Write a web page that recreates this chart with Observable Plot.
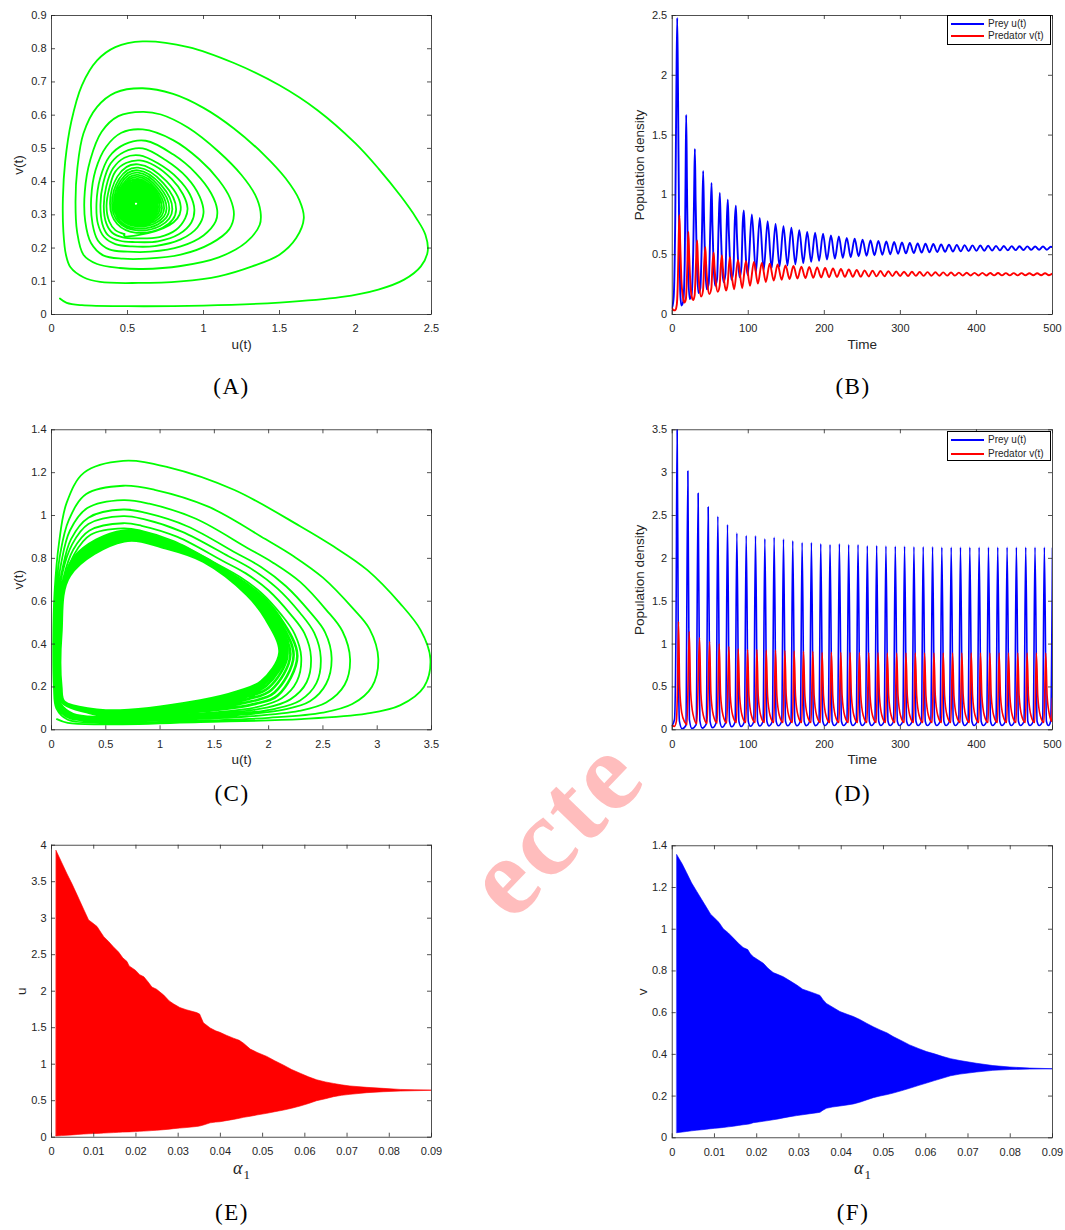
<!DOCTYPE html>
<html><head><meta charset="utf-8">
<script src="https://cdn.jsdelivr.net/npm/d3@7"></script>
<script src="https://cdn.jsdelivr.net/npm/@observablehq/plot@0.6"></script>
<style>
body{margin:0;background:#fff;}
#root{position:relative;width:1065px;height:1230px;overflow:hidden;background:#fff;}
.panel{position:absolute;z-index:1;}
.panel svg{display:block;max-width:none;}
.cap{position:absolute;z-index:3;font-family:'Liberation Serif','DejaVu Serif',serif;font-size:23px;letter-spacing:1.5px;transform:translate(-50%,-50%);color:#000;white-space:nowrap;line-height:1;}
.legend{position:absolute;z-index:3;background:#fff;border:1px solid #000;box-sizing:border-box;font-family:'Liberation Sans',Arial,sans-serif;font-size:10px;color:#262626;}
.legend .ln{position:absolute;left:3px;width:33px;height:0;border-top:2px solid;}
.legend .tx{position:absolute;left:40px;line-height:1;transform:translateY(-50%);white-space:nowrap;}
.alab{position:absolute;z-index:3;font-family:'Liberation Serif','DejaVu Serif',serif;color:#262626;white-space:nowrap;line-height:1;}
.wm{position:absolute;z-index:0;left:553px;top:826px;transform:translate(-50%,-50%) rotate(-46deg);font-family:'Liberation Serif','DejaVu Serif',serif;font-weight:bold;font-size:112px;letter-spacing:3px;color:#ffbdbd;white-space:nowrap;line-height:1;}
</style></head>
<body><div id="root"><div class="wm">ecte</div></div>
<script>
// ---------- tick values ----------
const ticksA_x = [0, 0.5, 1, 1.5, 2, 2.5];
const ticksA_y = [0, 0.1, 0.2, 0.3, 0.4, 0.5, 0.6, 0.7, 0.8, 0.9];
const ticksTime = [0, 100, 200, 300, 400, 500];
const ticksB_y = [0, 0.5, 1, 1.5, 2, 2.5];
const ticksC_x = [0, 0.5, 1, 1.5, 2, 2.5, 3, 3.5];
const ticksC_y = [0, 0.2, 0.4, 0.6, 0.8, 1, 1.2, 1.4];
const ticksD_y = [0, 0.5, 1, 1.5, 2, 2.5, 3, 3.5];
const ticksAlpha = [0, 0.01, 0.02, 0.03, 0.04, 0.05, 0.06, 0.07, 0.08, 0.09];
const ticksE_y = [0, 0.5, 1, 1.5, 2, 2.5, 3, 3.5, 4];
const ticksF_y = [0, 0.2, 0.4, 0.6, 0.8, 1, 1.2, 1.4];

// ---------- (A) phase trajectory [u, v]: outer loops ----------
const phaseA_outer = [
[0.055,0.048],[0.1,0.035],[0.2,0.028],[0.5,0.025],[1.0,0.027],[1.5,0.036],[1.9,0.052],[2.15,0.075],[2.32,0.105],[2.43,0.145],[2.475,0.19],[2.46,0.24],[2.4,0.29],[2.3,0.355],[2.15,0.44],[2.0,0.515],[1.75,0.615],[1.5,0.69],[1.2,0.757],[0.9,0.805],[0.6,0.822],[0.42,0.805],[0.3,0.765],[0.2,0.69],[0.13,0.58],[0.09,0.46],[0.075,0.35],[0.078,0.25],[0.095,0.18],[0.125,0.142],[0.21,0.112],
[0.32,0.098],[0.57,0.095],[0.85,0.1],[1.1,0.115],[1.32,0.145],[1.5,0.18],[1.61,0.23],[1.66,0.29],[1.63,0.345],[1.54,0.41],[1.4,0.48],[1.2,0.56],[1.0,0.622],[0.8,0.664],[0.6,0.681],[0.42,0.668],[0.3,0.625],[0.21,0.545],[0.17,0.44],[0.158,0.34],[0.168,0.25],[0.21,0.18],[0.3,0.152],
[0.45,0.14],[0.6,0.137],[0.85,0.146],[1.1,0.172],[1.28,0.217],[1.37,0.27],[1.375,0.31],[1.34,0.36],[1.25,0.42],[1.1,0.49],[0.9,0.562],[0.72,0.602],[0.6,0.61],[0.44,0.597],[0.33,0.55],[0.255,0.465],[0.219,0.37],[0.222,0.28],[0.26,0.215],[0.34,0.178],
[0.47,0.168],[0.62,0.168],[0.85,0.18],[1.05,0.214],[1.17,0.257],[1.2,0.3],[1.175,0.35],[1.1,0.405],[0.97,0.468],[0.8,0.525],[0.6,0.557],[0.46,0.547],[0.36,0.505],[0.29,0.435],[0.261,0.35],[0.27,0.272],[0.305,0.223],[0.38,0.196],
[0.5,0.189],[0.65,0.189],[0.85,0.205],[1.0,0.238],[1.08,0.28],[1.09,0.315],[1.05,0.365],[0.95,0.425],[0.8,0.482],[0.62,0.523],[0.48,0.512],[0.38,0.475],[0.32,0.41],[0.296,0.335],[0.306,0.272],[0.345,0.234],[0.42,0.212],
[0.53,0.205],[0.68,0.206],[0.85,0.226],[0.96,0.262],[1.0,0.305],[0.975,0.355],[0.89,0.413],[0.75,0.465],[0.6,0.5],[0.48,0.49],[0.39,0.455],[0.34,0.395],[0.322,0.33],[0.335,0.272],[0.37,0.24],[0.45,0.222],
[0.55,0.218],[0.7,0.22],[0.84,0.242],[0.92,0.277],[0.94,0.315],[0.91,0.362],[0.83,0.41],[0.7,0.455],[0.58,0.479],[0.48,0.472],[0.405,0.44],[0.36,0.385],[0.344,0.325],[0.36,0.275],[0.4,0.246],[0.47,0.232],
[0.56,0.229],[0.71,0.233],[0.82,0.255],[0.88,0.29],[0.895,0.32],[0.865,0.362],[0.79,0.408],[0.68,0.448],[0.58,0.464],[0.49,0.456],[0.42,0.43],[0.38,0.38],[0.362,0.325],[0.38,0.28],[0.42,0.254],[0.48,0.242]
];
// ---------- (A) inner loops (bottom, right, top, left extremes per loop) ----------
const phaseA_inner = [
[0.48,0.242],
[0.56,0.238],[0.85,0.315],[0.57,0.452],[0.385,0.335],
[0.56,0.246],[0.82,0.316],[0.57,0.442],[0.398,0.335],
[0.56,0.253],[0.795,0.317],[0.57,0.434],[0.41,0.335],
[0.56,0.259],[0.775,0.318],[0.57,0.427],[0.421,0.335],
[0.56,0.265],[0.757,0.319],[0.57,0.42],[0.431,0.335],
[0.56,0.27],[0.741,0.32],[0.57,0.414],[0.44,0.335],
[0.56,0.275],[0.727,0.321],[0.57,0.408],[0.448,0.335],
[0.56,0.279],[0.714,0.322],[0.57,0.403],[0.456,0.335],
[0.56,0.283],[0.702,0.323],[0.57,0.398],[0.463,0.335],
[0.56,0.287],[0.692,0.324],[0.57,0.394],[0.469,0.335],
[0.56,0.29],[0.682,0.325],[0.57,0.39],[0.475,0.335],
[0.56,0.293],[0.673,0.326],[0.57,0.386],[0.48,0.335],
[0.56,0.296],[0.665,0.327],[0.57,0.382],[0.485,0.335],
[0.56,0.299],[0.657,0.328],[0.565,0.378],[0.49,0.335],
[0.56,0.301],[0.65,0.328],[0.565,0.375],[0.494,0.335],
[0.558,0.303],[0.643,0.329],[0.565,0.372],[0.498,0.335],
[0.558,0.305],[0.637,0.329],[0.565,0.369],[0.502,0.335],
[0.558,0.307],[0.631,0.33],[0.562,0.366],[0.506,0.335],
[0.558,0.309],[0.625,0.33],[0.562,0.363],[0.509,0.335],
[0.557,0.311],[0.62,0.331],[0.562,0.361],[0.512,0.334],
[0.557,0.313],[0.615,0.331],[0.56,0.358],[0.515,0.334],
[0.557,0.315],[0.61,0.331],[0.56,0.356],[0.518,0.334],
[0.556,0.317],[0.605,0.332],[0.56,0.354],[0.521,0.334],
[0.556,0.319],[0.6,0.332],[0.558,0.352],[0.524,0.334],
[0.556,0.32],[0.596,0.332],[0.558,0.35],[0.527,0.334],
[0.556,0.321],[0.592,0.332],[0.558,0.348],[0.53,0.334],
[0.555,0.322],[0.588,0.333],[0.557,0.346],[0.532,0.334],
[0.555,0.323],[0.585,0.333],[0.557,0.345],[0.534,0.334],
[0.555,0.325],[0.58,0.333],[0.556,0.343],[0.537,0.334],
[0.555,0.327],[0.575,0.333],[0.556,0.341],[0.54,0.334],
[0.555,0.329],[0.57,0.333],[0.556,0.339],[0.543,0.334]
];
const equilibriumA = [[0.555, 0.333]];

// ---------- (C) phase trajectory [u, v]: outer loops ----------
const phaseC_outer = [
[0.05,0.05],[0.15,0.032],[0.45,0.025],[1.37,0.036],[2.3,0.05],[2.9,0.075],[3.21,0.114],[3.43,0.2],[3.49,0.33],[3.4,0.465],[3.21,0.59],[2.91,0.745],[2.6,0.855],[2.29,0.95],[1.68,1.12],[1.07,1.226],[0.66,1.255],[0.3,1.2],[0.14,1.06],[0.07,0.875],[0.028,0.64],[0.016,0.41],[0.022,0.2],[0.045,0.1],
[0.15,0.047],[0.45,0.034],[1.2,0.04],[2.0,0.056],[2.5,0.08],[2.77,0.12],[2.95,0.2],[3.01,0.33],[2.93,0.47],[2.77,0.57],[2.5,0.71],[2.23,0.81],[1.97,0.89],[1.45,1.04],[0.95,1.12],[0.66,1.139],[0.32,1.1],[0.16,0.98],[0.08,0.82],[0.035,0.6],[0.022,0.4],[0.028,0.2],[0.055,0.105],
[0.16,0.055],[0.45,0.041],[1.1,0.047],[1.8,0.062],[2.28,0.088],[2.53,0.127],[2.7,0.21],[2.75,0.33],[2.68,0.46],[2.53,0.56],[2.29,0.69],[2.04,0.78],[1.8,0.85],[1.33,0.985],[0.9,1.055],[0.66,1.072],[0.33,1.035],[0.17,0.93],[0.09,0.78],[0.04,0.58],[0.025,0.4],[0.032,0.2],[0.065,0.11],
[0.17,0.06],[0.45,0.046],[1.05,0.052],[1.7,0.068],[2.14,0.094],[2.38,0.133],[2.53,0.215],[2.58,0.335],[2.52,0.455],[2.38,0.55],[2.16,0.67],[1.93,0.76],[1.7,0.825],[1.25,0.95],[0.87,1.012],[0.66,1.028],[0.34,0.99],[0.18,0.89],[0.1,0.75],[0.045,0.56],[0.028,0.4],[0.035,0.2],[0.07,0.115],
[0.18,0.065],[0.45,0.051],[1.0,0.057],[1.63,0.072],[2.06,0.098],[2.29,0.137],[2.44,0.218],[2.48,0.337],[2.42,0.452],[2.29,0.545],[2.08,0.66],[1.86,0.745],[1.63,0.81],[1.2,0.925],[0.85,0.983],[0.66,0.997],[0.34,0.96],[0.19,0.865],[0.1,0.73],[0.05,0.55],[0.03,0.4],[0.038,0.2],[0.075,0.12],
[0.19,0.07],[0.45,0.056],[0.98,0.062],[1.57,0.077],[1.98,0.103],[2.2,0.142],[2.35,0.222],[2.39,0.338],[2.33,0.45],[2.2,0.54],[2.0,0.65],[1.79,0.73],[1.57,0.79],[1.16,0.9],[0.83,0.952],[0.66,0.964],[0.35,0.93],[0.2,0.84],[0.11,0.71],[0.055,0.54],[0.034,0.4],[0.042,0.2],[0.08,0.125],
[0.2,0.075],[0.45,0.061],[0.95,0.067],[1.52,0.082],[1.91,0.108],[2.12,0.147],[2.26,0.226],[2.3,0.34],[2.24,0.447],[2.12,0.535],[1.93,0.64],[1.73,0.715],[1.52,0.775],[1.13,0.88],[0.82,0.93],[0.66,0.94],[0.36,0.91],[0.21,0.82],[0.12,0.695],[0.06,0.53],[0.038,0.4],[0.046,0.2],[0.085,0.13]
];
// ---------- (C) dense band converging to the limit cycle ----------
const phaseC_band = [
[0.085,0.13],
[0.459,0.066],[1.493,0.092],[1.876,0.121],[2.086,0.161],[2.264,0.344],[2.093,0.532],[1.907,0.638],[1.498,0.777],[1.119,0.874],[0.662,0.929],[0.203,0.802],[0.065,0.516],[0.054,0.2],[0.091,0.13],
[0.468,0.071],[1.468,0.101],[1.844,0.133],[2.054,0.174],[2.23,0.347],[2.068,0.53],[1.885,0.637],[1.478,0.779],[1.109,0.868],[0.664,0.919],[0.196,0.785],[0.07,0.502],[0.061,0.2],[0.097,0.13],
[0.475,0.076],[1.445,0.11],[1.815,0.144],[2.025,0.186],[2.2,0.35],[2.045,0.528],[1.865,0.635],[1.46,0.78],[1.1,0.863],[0.665,0.91],[0.19,0.77],[0.075,0.49],[0.068,0.2],[0.103,0.13],
[0.482,0.079],[1.426,0.117],[1.79,0.153],[2.0,0.196],[2.174,0.353],[2.026,0.526],[1.848,0.634],[1.444,0.781],[1.092,0.858],[0.666,0.902],[0.185,0.757],[0.079,0.48],[0.074,0.2],[0.107,0.13],
[0.487,0.082],[1.409,0.123],[1.769,0.161],[1.979,0.205],[2.152,0.355],[2.009,0.524],[1.834,0.633],[1.431,0.782],[1.086,0.854],[0.667,0.896],[0.18,0.746],[0.082,0.471],[0.079,0.2],[0.111,0.13],
[0.492,0.085],[1.394,0.128],[1.75,0.168],[1.96,0.213],[2.132,0.357],[1.994,0.522],[1.821,0.632],[1.419,0.783],[1.08,0.851],[0.668,0.89],[0.176,0.736],[0.085,0.463],[0.083,0.2],[0.114,0.13],
[0.496,0.088],[1.382,0.133],[1.735,0.174],[1.945,0.219],[2.116,0.358],[1.982,0.521],[1.81,0.631],[1.41,0.784],[1.075,0.848],[0.669,0.885],[0.173,0.728],[0.088,0.456],[0.086,0.2],[0.117,0.13],
[0.5,0.09],[1.37,0.137],[1.72,0.18],[1.93,0.225],[2.1,0.36],[1.97,0.52],[1.8,0.63],[1.4,0.785],[1.07,0.845],[0.67,0.88],[0.17,0.72],[0.09,0.45],[0.09,0.2],[0.12,0.13],[0.5,0.09]
];

// ---------- (B) time series [t, value] ----------
const preyB = [
[0,0.06],[2,0.15],[4,0.8],[5.5,1.9],[6.6,2.48],[7.6,1.9],[9,0.8],[10.5,0.2],[12,0.075],
[14.5,0.11],[16.5,0.45],[17.5,1.1],[18.4,1.67],[19.4,1.1],[20.8,0.4],[23,0.13],
[25.5,0.17],[27.7,0.55],[28.9,1.05],[29.8,1.385],[30.8,0.95],[32.3,0.45],[34.5,0.18],
[37,0.22],[39.2,0.7],[40.7,1.2],[41.9,0.8],[43.3,0.42],[45.5,0.21],
[48,0.26],[50.2,0.75],[51.7,1.1],[52.9,0.75],[54.4,0.42],[56.5,0.24],
[59,0.3],[61.2,0.78],[62.6,1.017],[63.9,0.72],[65.4,0.43],[67.5,0.27],
[70,0.34],[71.8,0.78],[73.1,0.96],[74.4,0.7],[76,0.44],[78,0.29],
[80.5,0.37],[82.3,0.78],[83.7,0.91],[85,0.68],[86.6,0.45],[88.7,0.31],
[91,0.4],[92.8,0.77],[94.2,0.87],[95.5,0.67],[97,0.46],[99.4,0.33],
[104.7,0.836],[110,0.35],[115.1,0.808],[120.3,0.37],[125.5,0.78],[130.7,0.385],[135.9,0.758],[141.1,0.4],[146.3,0.738],[151.5,0.41],[156.7,0.725],[161.9,0.42],[167.1,0.705],[172.3,0.43],[177.5,0.691],[182.7,0.44],[187.9,0.683],[193.1,0.45],[198.3,0.675],[203.5,0.46],[208.7,0.66],[213.9,0.467],[219.1,0.652],[224.3,0.474],[229.5,0.641],[234.7,0.48],[239.9,0.633],[245.1,0.486],[250.3,0.626],[255.5,0.491],[260.7,0.62],[265.9,0.496],[271.1,0.615],[276.3,0.5],[281.5,0.61],[286.7,0.504],[291.8,0.606],[297,0.508],[302.1,0.602],[307.3,0.511],[312.4,0.598],[317.6,0.514],[322.7,0.595],[327.9,0.517],[333,0.592],[338.2,0.52],[343.3,0.589],[348.5,0.522],[353.6,0.586],[358.8,0.524],[363.9,0.584],[369.1,0.526],[374.2,0.582],[379.4,0.528],[384.5,0.58],[389.7,0.53],[394.8,0.578],[400,0.532],[405.1,0.577],[410.3,0.533],[415.4,0.575],[420.6,0.535],[425.7,0.574],[430.9,0.536],[436,0.573],[441.2,0.537],[446.3,0.572],[451.5,0.538],[456.6,0.571],[461.8,0.539],[466.9,0.57],[472.1,0.54],[477.2,0.569],[482.4,0.541],[487.5,0.568],[492.7,0.542],[497.8,0.567],[500,0.562]
];
const predB = [
[0,0.05],[2,0.035],[4,0.035],[6,0.08],[7.5,0.3],[8.6,0.65],[9.5,0.83],[10.5,0.6],[12,0.3],[14,0.15],[16,0.1],
[18,0.13],[19.6,0.35],[20.6,0.58],[21.3,0.69],[22.3,0.5],[24,0.25],[26,0.14],[27.5,0.12],
[29.5,0.16],[31,0.38],[32.1,0.55],[32.8,0.62],[33.8,0.45],[35.5,0.25],[38,0.15],
[40.5,0.2],[42,0.42],[43.6,0.563],[44.6,0.42],[46.3,0.26],[48.8,0.17],
[51.5,0.22],[53,0.42],[54.5,0.516],[55.6,0.4],[57.3,0.27],[59.8,0.19],
[62.4,0.24],[64,0.42],[65.4,0.493],[66.6,0.39],[68.3,0.28],[70.8,0.2],
[73,0.26],[74.6,0.41],[76,0.48],[77.2,0.39],[79,0.29],[81.5,0.21],
[86.4,0.457],[92,0.22],[96.9,0.448],[102.3,0.24],[107.4,0.44],[112.7,0.258],[117.8,0.432],[123.1,0.272],[128.2,0.425],[133.5,0.283],[138.6,0.418],[143.9,0.291],[149,0.41],[154.3,0.297],[159.4,0.405],[164.7,0.301],[169.8,0.4],[175.1,0.304],[180.2,0.397],[185.5,0.307],[190.6,0.394],[195.9,0.31],[201,0.39],[206.3,0.312],[211.4,0.385],[216.7,0.314],[221.8,0.38],[227.1,0.315],[232.2,0.376],[237.5,0.316],[242.6,0.372],[247.9,0.317],[253,0.368],[258.3,0.318],[263.4,0.366],[268.7,0.319],[273.8,0.364],[279.1,0.32],[284.2,0.362],[289.5,0.321],[294.5,0.36],[299.7,0.322],[304.8,0.358],[310,0.322],[315.1,0.357],[320.3,0.323],[325.4,0.355],[330.6,0.323],[335.7,0.354],[340.9,0.324],[346,0.353],[351.2,0.324],[356.3,0.352],[361.5,0.325],[366.6,0.351],[371.8,0.325],[376.9,0.35],[382.1,0.325],[387.2,0.349],[392.4,0.326],[397.5,0.348],[402.7,0.326],[407.8,0.348],[413,0.326],[418.1,0.347],[423.3,0.327],[428.4,0.347],[433.6,0.327],[438.7,0.346],[443.9,0.327],[449,0.346],[454.2,0.327],[459.3,0.346],[464.5,0.328],[469.6,0.345],[474.8,0.328],[479.9,0.345],[485.1,0.328],[490.2,0.345],[495.4,0.328],[500,0.342]
];

// ---------- (D) time series [t, value] ----------
const preyD = [
[0,0.05],[3,0.12],[5,1.2],[6.5,3.52],[8,1.0],[9.5,0.1],[13,0.012],[18,0.05],
[20.6,3.02],[22.6,0.12],[26,0.015],[31.5,0.06],
[34.1,2.76],[36.3,0.11],[39.5,0.02],[44.8,0.07],
[47.3,2.6],[49.7,0.1],[53,0.025],[57.7,0.08],
[60.0,2.49],[62.6,0.1],[65.5,0.03],[70.3,0.085],
[72.7,2.395],[75.3,0.1],[78.2,0.035],[82.7,0.09],
[85.0,2.294],[87.7,0.1],[90.5,0.04],[95,0.095],
[97.3,2.267],[100,0.1],[102.8,0.042],[107.2,0.095],
[109.5,2.263],[112.2,0.1],[115,0.045],[119.5,0.1],
[121.8,2.228],[124.5,0.1],[127.3,0.046],[131.7,0.1],
[134.0,2.247],[136.7,0.1],[139.5,0.047],[144,0.1],
[146.3,2.224],[149,0.1],[151.8,0.048],[156.2,0.1],
[158.5,2.205],[161.2,0.1],[164,0.048],[168.5,0.1],
[170.8,2.186],[173.5,0.1],[176.3,0.049],[180.7,0.1],
[183.0,2.186],[185.7,0.1],[188.5,0.049],[193,0.1],
[195.3,2.17],[198,0.1],[200.8,0.05],[205.2,0.1],
[207.5,2.162],[210.2,0.1],[213,0.05],[217.5,0.1],
[219.8,2.17],[222.5,0.1],[225.3,0.05],[229.7,0.1],
[232.0,2.16],[234.7,0.1],[237.5,0.05],[242,0.1],
[244.3,2.16],[247,0.1],[249.8,0.05],[254.2,0.1],
[256.5,2.147],[259.2,0.1],[262,0.05],[266.5,0.1],
[268.8,2.15],[271.5,0.1],[274.3,0.05],[278.7,0.1],
[281.0,2.145],[283.7,0.1],[286.5,0.05],[291,0.1],
[293.3,2.14],[296,0.1],[298.8,0.05],[303.2,0.1],
[305.5,2.14],[308.2,0.1],[311,0.05],[315.5,0.1],
[317.8,2.135],[320.5,0.1],[323.3,0.05],[327.7,0.1],
[330.0,2.135],[332.7,0.1],[335.5,0.05],[340,0.1],
[342.3,2.135],[345,0.1],[347.8,0.05],[352.2,0.1],
[354.5,2.13],[357.2,0.1],[360,0.05],[364.5,0.1],
[366.8,2.13],[369.5,0.1],[372.3,0.05],[376.7,0.1],
[379.0,2.13],[381.7,0.1],[384.5,0.05],[389,0.1],
[391.3,2.13],[394,0.1],[396.8,0.05],[401.2,0.1],
[403.5,2.13],[406.2,0.1],[409,0.05],[413.5,0.1],
[415.8,2.13],[418.5,0.1],[421.3,0.05],[425.7,0.1],
[428.0,2.13],[430.7,0.1],[433.5,0.05],[438,0.1],
[440.3,2.13],[443,0.1],[445.8,0.05],[450.2,0.1],
[452.5,2.13],[455.2,0.1],[458,0.05],[462.5,0.1],
[464.8,2.13],[467.5,0.1],[470.3,0.05],[474.7,0.1],
[477.0,2.13],[479.7,0.1],[482.5,0.05],[487,0.1],
[489.3,2.13],[492,0.1],[494.6,0.05],[497.6,0.1],[500,2.12]
];
const predD = [
[0,0.05],[3,0.04],[5.5,0.1],[7,0.5],[8.3,1.264],[9.8,0.5],[12.5,0.2],[16.5,0.09],[19.5,0.06],
[22.4,1.147],[24.2,0.45],[27.4,0.18],[32.4,0.07],
[35.9,1.077],[37.7,0.43],[40.9,0.17],[45.9,0.075],
[49.1,1.03],[50.9,0.42],[54.1,0.17],[59.1,0.08],
[61.8,1.003],[63.6,0.41],[66.8,0.17],[71.8,0.08],
[74.5,0.972],[76.3,0.4],[79.5,0.17],[84.5,0.085],
[86.8,0.945],[88.6,0.4],[91.8,0.17],[96.8,0.085],
[99.1,0.937],[100.9,0.4],[104.1,0.17],[109.1,0.085],
[111.3,0.937],[113.1,0.4],[116.3,0.17],[121.3,0.085],
[123.6,0.929],[125.4,0.4],[128.6,0.17],[133.6,0.085],
[135.8,0.929],[137.6,0.4],[140.8,0.17],[145.8,0.085],
[148.1,0.925],[149.9,0.4],[153.1,0.17],[158.1,0.085],
[160.3,0.918],[162.1,0.4],[165.3,0.17],[170.3,0.085],
[172.6,0.915],[174.4,0.4],[177.6,0.17],[182.6,0.085],
[184.8,0.915],[186.6,0.4],[189.8,0.17],[194.8,0.085],
[197.1,0.902],[198.9,0.4],[202.1,0.17],[207.1,0.085],
[209.3,0.905],[211.1,0.4],[214.3,0.17],[219.3,0.085],
[221.6,0.905],[223.4,0.4],[226.6,0.17],[231.6,0.085],
[233.8,0.902],[235.6,0.4],[238.8,0.17],[243.8,0.085],
[246.1,0.902],[247.9,0.4],[251.1,0.17],[256.1,0.085],
[258.3,0.898],[260.1,0.4],[263.3,0.17],[268.3,0.085],
[270.6,0.897],[272.4,0.4],[275.6,0.17],[280.6,0.085],
[282.8,0.896],[284.6,0.4],[287.8,0.17],[292.8,0.085],
[295.1,0.896],[296.9,0.4],[300.1,0.17],[305.1,0.085],
[307.3,0.895],[309.1,0.4],[312.3,0.17],[317.3,0.085],
[319.6,0.895],[321.4,0.4],[324.6,0.17],[329.6,0.085],
[331.8,0.895],[333.6,0.4],[336.8,0.17],[341.8,0.085],
[344.1,0.895],[345.9,0.4],[349.1,0.17],[354.1,0.085],
[356.3,0.895],[358.1,0.4],[361.3,0.17],[366.3,0.085],
[368.6,0.895],[370.4,0.4],[373.6,0.17],[378.6,0.085],
[380.8,0.895],[382.6,0.4],[385.8,0.17],[390.8,0.085],
[393.1,0.895],[394.9,0.4],[398.1,0.17],[403.1,0.085],
[405.3,0.895],[407.1,0.4],[410.3,0.17],[415.3,0.085],
[417.6,0.895],[419.4,0.4],[422.6,0.17],[427.6,0.085],
[429.8,0.895],[431.6,0.4],[434.8,0.17],[439.8,0.085],
[442.1,0.895],[443.9,0.4],[447.1,0.17],[452.1,0.085],
[454.3,0.895],[456.1,0.4],[459.3,0.17],[464.3,0.085],
[466.6,0.895],[468.4,0.4],[471.6,0.17],[476.6,0.085],
[478.8,0.895],[480.6,0.4],[483.8,0.17],[488.8,0.085],
[491.1,0.895],[492.9,0.4],[496.1,0.17],[499,0.1],[500,0.37]
];

// ---------- (E) bifurcation envelope of u ----------
const alphaE = [0.0012,0.0025,0.0038,0.005,0.0062,0.0077,0.0089,0.0098,0.0109,0.0118,0.0125,0.0137,0.0148,0.016,0.017,0.018,0.0185,0.02,0.021,0.022,0.023,0.0239,0.025,0.0267,0.028,0.029,0.0305,0.032,0.0345,0.0352,0.0361,0.0377,0.039,0.04,0.0415,0.0432,0.0446,0.0456,0.0472,0.049,0.0511,0.053,0.0551,0.057,0.059,0.061,0.0629,0.065,0.0669,0.0688,0.0708,0.0748,0.0787,0.0827,0.086,0.09];
const uUpper = [3.92,3.76,3.6,3.46,3.31,3.12,2.97,2.93,2.88,2.8,2.74,2.67,2.6,2.53,2.45,2.4,2.34,2.28,2.22,2.19,2.12,2.05,2.02,1.94,1.86,1.82,1.77,1.74,1.7,1.68,1.56,1.49,1.45,1.43,1.39,1.35,1.32,1.28,1.2,1.15,1.1,1.04,0.98,0.92,0.87,0.82,0.78,0.75,0.73,0.71,0.695,0.676,0.662,0.648,0.643,0.64];
const uLower = [0.01,0.015,0.02,0.025,0.03,0.036,0.04,0.043,0.045,0.047,0.05,0.053,0.056,0.06,0.063,0.065,0.066,0.07,0.074,0.077,0.08,0.084,0.088,0.096,0.103,0.11,0.118,0.125,0.14,0.146,0.16,0.19,0.2,0.205,0.22,0.237,0.252,0.265,0.28,0.3,0.32,0.342,0.365,0.39,0.42,0.455,0.493,0.52,0.548,0.567,0.58,0.603,0.616,0.625,0.63,0.635];

// ---------- (F) bifurcation envelope of v ----------
const alphaF = [0.0012,0.0025,0.0035,0.0047,0.0059,0.0071,0.0083,0.0092,0.0102,0.0112,0.0122,0.0134,0.0146,0.0158,0.0169,0.018,0.0186,0.0193,0.0205,0.0217,0.0228,0.024,0.0252,0.0264,0.028,0.0296,0.031,0.0327,0.0345,0.0351,0.0358,0.0366,0.038,0.0398,0.0415,0.043,0.0445,0.0461,0.0477,0.0493,0.051,0.0524,0.0545,0.0563,0.0585,0.0603,0.0622,0.0642,0.066,0.0682,0.0721,0.076,0.08,0.0847,0.09];
const vUpper = [1.355,1.31,1.27,1.22,1.18,1.14,1.1,1.07,1.05,1.03,1.0,0.98,0.955,0.93,0.91,0.9,0.88,0.866,0.85,0.834,0.81,0.79,0.78,0.77,0.75,0.73,0.71,0.698,0.685,0.68,0.66,0.642,0.625,0.603,0.59,0.579,0.565,0.547,0.53,0.515,0.5,0.483,0.462,0.443,0.425,0.411,0.4,0.387,0.377,0.368,0.355,0.344,0.337,0.332,0.329];
const vLower = [0.022,0.025,0.028,0.031,0.034,0.036,0.039,0.041,0.043,0.045,0.047,0.05,0.053,0.057,0.06,0.063,0.065,0.07,0.073,0.077,0.08,0.084,0.088,0.093,0.099,0.104,0.108,0.113,0.118,0.12,0.13,0.139,0.145,0.15,0.155,0.16,0.168,0.179,0.19,0.198,0.205,0.212,0.224,0.235,0.249,0.26,0.272,0.284,0.295,0.303,0.313,0.321,0.325,0.327,0.328];

// ---------- drawing ----------
const AX = "#262626";
const GREEN = "#00ff00", BLUE = "#0000ff", RED = "#ff0000";
const root = document.getElementById("root");
const fmt = d => String(d);

function panel(o) {
  const fw = o.width - o.ml - o.mr, fh = o.height - o.mt - o.mb;
  const tk = {stroke: AX, strokeWidth: 0.8};
  const marks = [
    ...o.marks,
    Plot.frame({stroke: AX, strokeWidth: 0.8}),
    Plot.ruleX(o.xTicks, {x: d => d, insetTop: fh - 4, ...tk}),
    Plot.ruleX(o.xTicks, {x: d => d, insetBottom: fh - 4, ...tk}),
    Plot.ruleY(o.yTicks, {y: d => d, insetRight: fw - 4, ...tk}),
    Plot.ruleY(o.yTicks, {y: d => d, insetLeft: fw - 4, ...tk}),
    Plot.axisX({ticks: o.xTicks, tickFormat: fmt, tickSize: 0, tickPadding: 10, label: null, fontSize: 11}),
    Plot.axisY({ticks: o.yTicks, tickFormat: fmt, tickSize: 0, tickPadding: 5, label: null, fontSize: 11})
  ];
  if (o.xLabel) marks.push(Plot.axisX({ticks: [], tickSize: 0, label: o.xLabel, labelAnchor: "center", labelOffset: o.xLabelOffset, labelArrow: "none", fontSize: 13.5}));
  if (o.yLabel) marks.push(Plot.axisY({ticks: [], tickSize: 0, label: o.yLabel, labelAnchor: "center", labelOffset: o.yLabelOffset, labelArrow: "none", fontSize: 13.5}));
  const svg = Plot.plot({
    width: o.width, height: o.height,
    marginLeft: o.ml, marginRight: o.mr, marginTop: o.mt, marginBottom: o.mb,
    style: {background: "white", color: AX, fontFamily: "'Liberation Sans', Arial, Helvetica, sans-serif", fontSize: "11px", overflow: "visible"},
    x: {domain: o.xDomain}, y: {domain: o.yDomain},
    marks
  });
  const div = document.createElement("div");
  div.className = "panel";
  div.style.left = o.left + "px"; div.style.top = o.top + "px";
  div.style.width = o.width + "px"; div.style.height = o.height + "px";
  div.appendChild(svg);
  root.appendChild(div);
}

const lineOpts = (stroke, curve, w) => ({x: d => d[0], y: d => d[1], stroke, strokeWidth: w, curve, clip: true});

// (A)
panel({left: 0, top: 0, width: 460, height: 360, ml: 51, mr: 29, mt: 15, mb: 46,
  xDomain: [0, 2.5], yDomain: [0, 0.9], xTicks: ticksA_x, yTicks: ticksA_y,
  xLabel: "u(t)", yLabel: "v(t)", xLabelOffset: 34, yLabelOffset: 38,
  marks: [Plot.line(phaseA_outer, lineOpts(GREEN, "catmull-rom", 1.8)),
          Plot.line(phaseA_inner, lineOpts(GREEN, "natural", 1.8)),
          Plot.dot(equilibriumA, {x: d => d[0], y: d => d[1], r: 1, fill: "white", stroke: "none"})]});
// (B)
panel({left: 630, top: 0, width: 435, height: 360, ml: 41.7, mr: 13, mt: 15, mb: 46,
  xDomain: [0, 500], yDomain: [0, 2.5], xTicks: ticksTime, yTicks: ticksB_y,
  xLabel: "Time", yLabel: "Population density", xLabelOffset: 34, yLabelOffset: 38,
  marks: [Plot.line(preyB, lineOpts(BLUE, "monotone-x", 1.9)),
          Plot.line(predB, lineOpts(RED, "monotone-x", 1.9))]});
// (C)
panel({left: 0, top: 415, width: 460, height: 360, ml: 51, mr: 29, mt: 14.3, mb: 45.7,
  xDomain: [0, 3.5], yDomain: [0, 1.4], xTicks: ticksC_x, yTicks: ticksC_y,
  xLabel: "u(t)", yLabel: "v(t)", xLabelOffset: 34, yLabelOffset: 38,
  marks: [Plot.line(phaseC_outer, lineOpts(GREEN, "catmull-rom", 1.8)),
          Plot.line(phaseC_band, lineOpts(GREEN, "catmull-rom", 2.6))]});
// (D)
panel({left: 630, top: 415, width: 435, height: 360, ml: 41.7, mr: 13, mt: 14.3, mb: 45.7,
  xDomain: [0, 500], yDomain: [0, 3.5], xTicks: ticksTime, yTicks: ticksD_y,
  xLabel: "Time", yLabel: "Population density", xLabelOffset: 34, yLabelOffset: 38,
  marks: [Plot.line(preyD, lineOpts(BLUE, "monotone-x", 1.6)),
          Plot.line(predD, lineOpts(RED, "monotone-x", 1.6))]});
// (E)
panel({left: 0, top: 830, width: 477, height: 360, ml: 51, mr: 46, mt: 14.7, mb: 53.3,
  xDomain: [0, 0.09], yDomain: [0, 4], xTicks: ticksAlpha, yTicks: ticksE_y,
  yLabel: "u", yLabelOffset: 35,
  marks: [Plot.areaY(alphaE.map((a, i) => ({a, lo: uLower[i], hi: uUpper[i]})), {x: "a", y1: "lo", y2: "hi", fill: RED, stroke: RED, strokeWidth: 0.6})]});
// (F)
panel({left: 630, top: 830, width: 435, height: 360, ml: 41.7, mr: 13, mt: 15.3, mb: 52.7,
  xDomain: [0, 0.09], yDomain: [0, 1.4], xTicks: ticksAlpha, yTicks: ticksF_y,
  yLabel: "v", yLabelOffset: 35,
  marks: [Plot.areaY(alphaF.map((a, i) => ({a, lo: vLower[i], hi: vUpper[i]})), {x: "a", y1: "lo", y2: "hi", fill: BLUE, stroke: BLUE, strokeWidth: 0.6})]});

// legends
function legend(left, top, h, r1, r2) {
  const d = document.createElement("div");
  d.className = "legend";
  d.style.left = left + "px"; d.style.top = top + "px"; d.style.width = "104px"; d.style.height = h + "px";
  d.innerHTML =
    `<div class="ln" style="top:${r1 - 1}px;border-color:${BLUE}"></div><div class="tx" style="top:${r1}px">Prey u(t)</div>` +
    `<div class="ln" style="top:${r2 - 1}px;border-color:${RED}"></div><div class="tx" style="top:${r2}px">Predator v(t)</div>`;
  root.appendChild(d);
}
legend(947, 15, 29.5, 8, 20);
legend(947, 430.5, 30.5, 8.5, 22);

// captions
const caps = [["(A)", 231.5, 386], ["(B)", 853, 386], ["(C)", 232, 793], ["(D)", 853, 793], ["(E)", 232, 1211.5], ["(F)", 853, 1211.5]];
for (const [t, x, y] of caps) {
  const c = document.createElement("div");
  c.className = "cap"; c.textContent = t;
  c.style.left = x + "px"; c.style.top = y + "px";
  root.appendChild(c);
}
// alpha_1 axis labels
for (const x of [233, 854]) {
  const a = document.createElement("div");
  a.className = "alab";
  a.style.left = x + "px"; a.style.top = "1159px";
  a.innerHTML = '<span style="font-style:italic;font-size:18px">α</span><span style="font-size:13px;position:relative;top:5px;margin-left:1px">1</span>';
  root.appendChild(a);
}
</script>
</body></html>
